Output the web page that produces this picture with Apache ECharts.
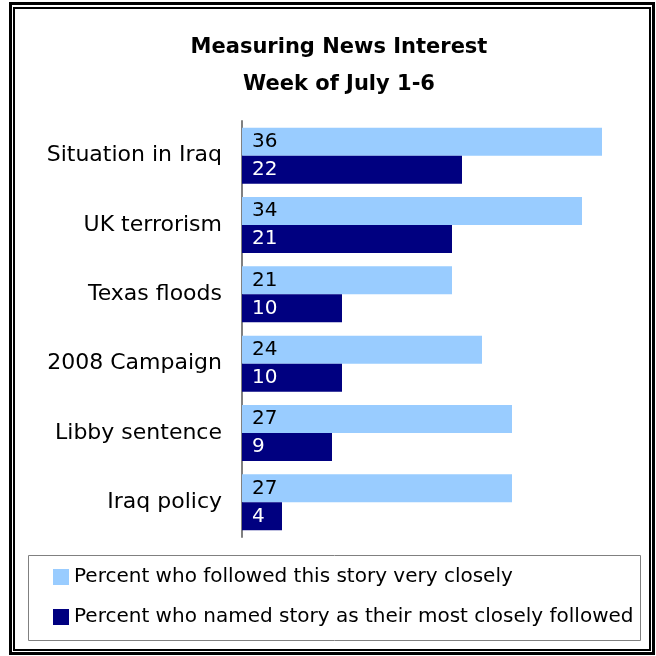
<!DOCTYPE html>
<html>
<head>
<meta charset="utf-8">
<script src="https://cdn.jsdelivr.net/npm/echarts@6/dist/echarts.min.js"></script>
<style>
  html, body { margin: 0; padding: 0; background: #fff; }
  #chart { width: 656px; height: 656px; }
</style>
</head>
<body>
<div id="chart"></div>
<script>
// stories, top to bottom
const stories = ['Situation in Iraq', 'UK terrorism', 'Texas floods', '2008 Campaign', 'Libby sentence', 'Iraq policy']
const veryClosely = [36, 34, 21, 24, 27, 27]
const mostClosely = [22, 21, 10, 10, 9, 4]
const seriesNames = ['Percent who followed this story very closely', 'Percent who named story as their most closely followed']

const FONT = '"DejaVu Sans", Verdana, sans-serif'

let chart = echarts.init(document.getElementById('chart'))
let option = {
    animation: false,
    title: {
        text: 'Measuring News Interest\nWeek of July 1-6',
        left: 334,
        top: 24,
        textAlign: 'center',
        textStyle: { fontFamily: FONT, fontSize: 21, fontWeight: 'bold', color: '#000', lineHeight: 37 }
    },
    grid: { left: 242, top: 121, width: 400, height: 416 },
    xAxis: { type: 'value', min: 0, max: 40, show: false },
    yAxis: {
        type: 'category',
        data: stories,
        inverse: true,
        axisLine: { lineStyle: { color: '#808080', width: 2 } },
        axisTick: { show: false },
        axisLabel: { fontFamily: FONT, fontSize: 22, color: '#000', margin: 20, padding: [0, 0, 6, 0] }
    },
    legend: {
        orient: 'vertical',
        left: 53,
        top: 567,
        padding: 0,
        itemWidth: 16,
        itemHeight: 16,
        itemGap: 20,
        icon: 'rect',
        textStyle: { fontFamily: FONT, fontSize: 20, color: '#000' },
        data: seriesNames
    },
    graphic: [
        { type: 'rect', shape: { x: 10.5, y: 3.5, width: 643, height: 650 }, style: { fill: 'none', stroke: '#000', lineWidth: 3 } },
        { type: 'rect', shape: { x: 14, y: 8, width: 636, height: 642 }, style: { fill: 'none', stroke: '#000', lineWidth: 2 } },
        { type: 'rect', shape: { x: 28.5, y: 555.5, width: 612, height: 85 }, style: { fill: 'none', stroke: '#808080', lineWidth: 1 } }
    ],
    series: [
        {
            name: seriesNames[0],
            type: 'bar',
            data: veryClosely,
            barWidth: 28,
            barGap: '0%',
            itemStyle: { color: '#99CCFF' },
            label: { show: true, position: 'insideLeft', distance: 10, color: '#000', fontFamily: FONT, fontSize: 20 }
        },
        {
            name: seriesNames[1],
            type: 'bar',
            data: mostClosely,
            barWidth: 28,
            itemStyle: { color: '#000080' },
            label: { show: true, position: 'insideLeft', distance: 10, color: '#fff', fontFamily: FONT, fontSize: 20 }
        }
    ]
}
chart.setOption(option)
</script>
</body>
</html>
